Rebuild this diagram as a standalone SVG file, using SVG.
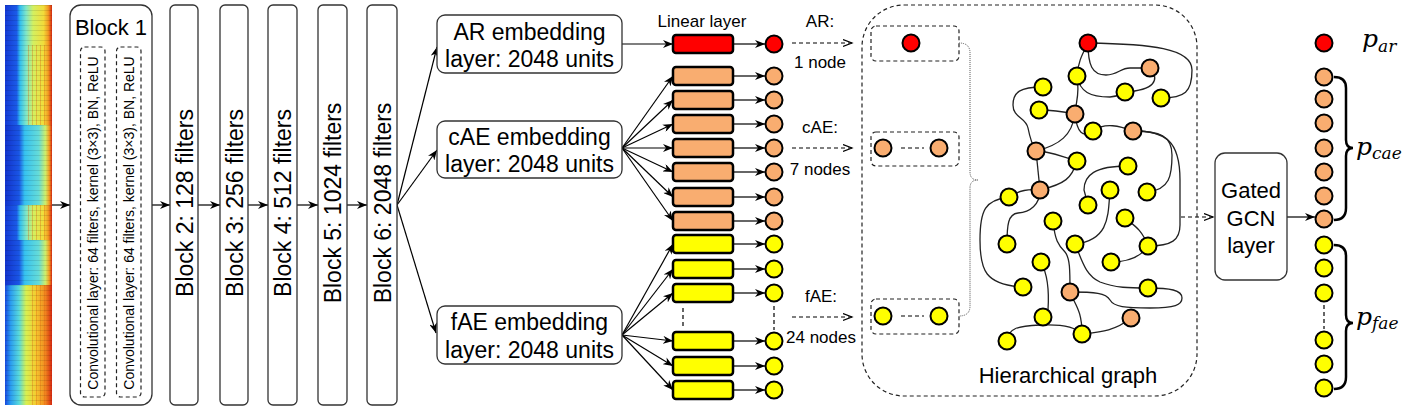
<svg xmlns="http://www.w3.org/2000/svg" width="1408" height="410" viewBox="0 0 1408 410">
<style>
.t{font-family:"Liberation Sans",Arial,sans-serif;fill:#000}
.m{font-family:"DejaVu Serif","Liberation Serif",serif;font-style:italic;fill:#000}
.box{fill:#fff;stroke:#333;stroke-width:1.3}
.dbox{fill:none;stroke:#222;stroke-width:1.2;stroke-dasharray:4 3}
.lin{stroke:#000;stroke-width:2.5}
.n{stroke:#000;stroke-width:2}
.r{fill:#ff0000}.o{fill:#f9ad70}.y{fill:#ffff00}
.e{fill:none;stroke:#222;stroke-width:1.3}
.a{fill:none;stroke:#000;stroke-width:1.2;marker-end:url(#ah)}
.da{fill:none;stroke:#000;stroke-width:1.2;stroke-dasharray:4 3;marker-end:url(#oh)}
.dl{fill:none;stroke:#000;stroke-width:1.2;stroke-dasharray:4 3}
.br{fill:none;stroke:#000;stroke-width:2.5}
</style>
<defs>
<marker id="ah" markerUnits="userSpaceOnUse" markerWidth="11" markerHeight="8" refX="10" refY="4" orient="auto">
<path d="M0,0 L10,4 L0,8 L3,4 z" fill="#000"/>
</marker>
<marker id="oh" markerUnits="userSpaceOnUse" markerWidth="11" markerHeight="9" refX="9" refY="4" orient="auto">
<path d="M0,0.5 L9,4 L0,7.5" fill="none" stroke="#000" stroke-width="1.2"/>
</marker>
<linearGradient id="s1" x1="0" x2="1" y1="0" y2="0">
<stop offset="0" stop-color="#1438d4"/><stop offset="0.25" stop-color="#1b5be8"/><stop offset="0.32" stop-color="#32bff0"/><stop offset="0.45" stop-color="#7fe6c8"/><stop offset="0.6" stop-color="#d4f060"/><stop offset="0.82" stop-color="#f2dc3a"/><stop offset="0.92" stop-color="#f29a22"/><stop offset="1" stop-color="#d42810"/>
</linearGradient>
<linearGradient id="s2" x1="0" x2="1" y1="0" y2="0">
<stop offset="0" stop-color="#1232cc"/><stop offset="0.3" stop-color="#1a56e6"/><stop offset="0.42" stop-color="#36c2f0"/><stop offset="0.72" stop-color="#66dcd8"/><stop offset="0.86" stop-color="#cdee6a"/><stop offset="0.94" stop-color="#f2a024"/><stop offset="1" stop-color="#d42810"/>
</linearGradient>
<linearGradient id="s3" x1="0" x2="1" y1="0" y2="0">
<stop offset="0" stop-color="#1848de"/><stop offset="0.12" stop-color="#2a9cf0"/><stop offset="0.3" stop-color="#58dadc"/><stop offset="0.45" stop-color="#d8f050"/><stop offset="0.65" stop-color="#f4cc30"/><stop offset="0.85" stop-color="#f28a20"/><stop offset="1" stop-color="#d42810"/>
</linearGradient>
<pattern id="scan" width="47" height="5" patternUnits="userSpaceOnUse">
<rect width="47" height="1" fill="#000" opacity="0.1"/>
</pattern>
<pattern id="vst" width="4" height="20" patternUnits="userSpaceOnUse">
<rect width="1" height="20" fill="#e06010" opacity="0.35"/>
</pattern>
</defs>

<g id="spectrogram">
<rect x="5" y="5" width="47" height="40" fill="url(#s1)"/>
<rect x="5" y="45" width="47" height="80" fill="url(#s1)"/>
<rect x="27" y="45" width="20" height="80" fill="url(#vst)"/>
<rect x="5" y="125" width="47" height="80" fill="url(#s2)"/>
<rect x="5" y="205" width="47" height="35" fill="url(#s1)"/>
<rect x="27" y="205" width="20" height="35" fill="url(#vst)"/>
<rect x="5" y="240" width="47" height="45" fill="url(#s2)"/>
<rect x="5" y="285" width="47" height="120" fill="url(#s3)"/>
<rect x="31" y="285" width="18" height="120" fill="url(#vst)"/>
<rect x="5" y="5" width="47" height="400" fill="url(#scan)"/>
</g>

<g id="connectors">
<line class="a" x1="52" y1="205" x2="70" y2="205"/>
<line class="a" x1="152" y1="205" x2="170" y2="205"/>
<line class="a" x1="198" y1="205" x2="220" y2="205"/>
<line class="a" x1="248" y1="205" x2="268" y2="205"/>
<line class="a" x1="297" y1="205" x2="318" y2="205"/>
<line class="a" x1="347" y1="205" x2="367" y2="205"/>
<line class="a" x1="397" y1="205" x2="437" y2="47"/>
<line class="a" x1="397" y1="205" x2="437" y2="150"/>
<line class="a" x1="397" y1="205" x2="436" y2="333"/>
<line class="a" x1="622" y1="44" x2="673" y2="44"/>
<line class="a" x1="622" y1="148" x2="673" y2="76"/>
<line class="a" x1="622" y1="148" x2="673" y2="100"/>
<line class="a" x1="622" y1="148" x2="673" y2="124"/>
<line class="a" x1="622" y1="148" x2="673" y2="148"/>
<line class="a" x1="622" y1="148" x2="673" y2="172"/>
<line class="a" x1="622" y1="148" x2="673" y2="197"/>
<line class="a" x1="622" y1="148" x2="673" y2="221"/>
<line class="a" x1="622" y1="335" x2="673" y2="244"/>
<line class="a" x1="622" y1="335" x2="673" y2="269"/>
<line class="a" x1="622" y1="335" x2="673" y2="293"/>
<line class="a" x1="622" y1="335" x2="673" y2="341"/>
<line class="a" x1="622" y1="335" x2="673" y2="366"/>
<line class="a" x1="622" y1="335" x2="673" y2="390"/>
<line class="a" x1="733" y1="44" x2="765" y2="44"/>
<line class="a" x1="733" y1="76" x2="765" y2="76"/>
<line class="a" x1="733" y1="100" x2="765" y2="100"/>
<line class="a" x1="733" y1="124" x2="765" y2="124"/>
<line class="a" x1="733" y1="148" x2="765" y2="148"/>
<line class="a" x1="733" y1="172" x2="765" y2="172"/>
<line class="a" x1="733" y1="197" x2="765" y2="197"/>
<line class="a" x1="733" y1="221" x2="765" y2="221"/>
<line class="a" x1="733" y1="244" x2="765" y2="244"/>
<line class="a" x1="733" y1="269" x2="765" y2="269"/>
<line class="a" x1="733" y1="293" x2="765" y2="293"/>
<line class="a" x1="733" y1="341" x2="765" y2="341"/>
<line class="a" x1="733" y1="366" x2="765" y2="366"/>
<line class="a" x1="733" y1="390" x2="765" y2="390"/>
<line class="dl" x1="683" y1="308" x2="683" y2="328"/>
<line class="dl" x1="774" y1="306" x2="774" y2="330"/>
<line class="da" x1="792" y1="43" x2="852" y2="43"/>
<line class="da" x1="792" y1="148" x2="852" y2="148"/>
<line class="da" x1="792" y1="317" x2="852" y2="317"/>
<line class="da" x1="1181" y1="217" x2="1213" y2="217"/>
<line class="a" x1="1287" y1="217" x2="1315" y2="217"/>
</g>

<g id="block1">
<rect class="box" x="70" y="5" width="82" height="400" rx="11"/>
<text class="t" x="111" y="35" font-size="22" text-anchor="middle">Block 1</text>
<rect class="dbox" x="80.5" y="47" width="24.5" height="350" rx="4"/>
<rect class="dbox" x="116.5" y="47" width="24.5" height="350" rx="4"/>
<text class="t" font-size="14" text-anchor="middle" transform="translate(97.5,223) rotate(-90)">Convolutional layer: 64 filters, kernel (3×3), BN, ReLU</text>
<text class="t" font-size="14" text-anchor="middle" transform="translate(133.5,223) rotate(-90)">Convolutional layer: 64 filters, kernel (3×3), BN, ReLU</text>
</g>
<g id="block2">
<rect class="box" x="170" y="5" width="28" height="400" rx="5"/>
<text class="t" font-size="23" text-anchor="middle" transform="translate(192.5,203) rotate(-90)">Block 2: 128 filters</text>
</g>
<g id="block3">
<rect class="box" x="220" y="5" width="28" height="400" rx="5"/>
<text class="t" font-size="23" text-anchor="middle" transform="translate(242.5,203) rotate(-90)">Block 3: 256 filters</text>
</g>
<g id="block4">
<rect class="box" x="268" y="5" width="29" height="400" rx="5"/>
<text class="t" font-size="23" text-anchor="middle" transform="translate(291,203) rotate(-90)">Block 4: 512 filters</text>
</g>
<g id="block5">
<rect class="box" x="318" y="5" width="29" height="400" rx="5"/>
<text class="t" font-size="23" text-anchor="middle" transform="translate(341,203) rotate(-90)">Block 5: 1024 filters</text>
</g>
<g id="block6">
<rect class="box" x="367" y="5" width="30" height="400" rx="5"/>
<text class="t" font-size="23" text-anchor="middle" transform="translate(390.5,203) rotate(-90)">Block 6: 2048 filters</text>
</g>

<g id="ar-embedding">
<rect class="box" x="437" y="15" width="185" height="58" rx="8"/>
<text class="t" x="529.5" y="39.5" font-size="23" text-anchor="middle">AR embedding</text>
<text class="t" x="529.5" y="66.5" font-size="23" text-anchor="middle">layer: 2048 units</text>
</g>
<g id="cae-embedding">
<rect class="box" x="437" y="121" width="185" height="57" rx="8"/>
<text class="t" x="529.5" y="144.5" font-size="23" text-anchor="middle">cAE embedding</text>
<text class="t" x="529.5" y="172" font-size="23" text-anchor="middle">layer: 2048 units</text>
</g>
<g id="fae-embedding">
<rect class="box" x="437" y="306" width="185" height="58" rx="8"/>
<text class="t" x="529.5" y="330" font-size="23" text-anchor="middle">fAE embedding</text>
<text class="t" x="529.5" y="358" font-size="23" text-anchor="middle">layer: 2048 units</text>
</g>

<g id="linear-layers">
<text class="t" x="702" y="27" font-size="17" text-anchor="middle">Linear layer</text>
<rect class="lin r" x="673" y="35" width="60" height="18" rx="3"/>
<rect class="lin o" x="673" y="67" width="60" height="18" rx="3"/>
<rect class="lin o" x="673" y="91" width="60" height="18" rx="3"/>
<rect class="lin o" x="673" y="115" width="60" height="18" rx="3"/>
<rect class="lin o" x="673" y="139" width="60" height="18" rx="3"/>
<rect class="lin o" x="673" y="163" width="60" height="18" rx="3"/>
<rect class="lin o" x="673" y="188" width="60" height="18" rx="3"/>
<rect class="lin o" x="673" y="212" width="60" height="18" rx="3"/>
<rect class="lin y" x="673" y="235" width="60" height="18" rx="3"/>
<rect class="lin y" x="673" y="260" width="60" height="18" rx="3"/>
<rect class="lin y" x="673" y="284" width="60" height="18" rx="3"/>
<rect class="lin y" x="673" y="332" width="60" height="18" rx="3"/>
<rect class="lin y" x="673" y="357" width="60" height="18" rx="3"/>
<rect class="lin y" x="673" y="381" width="60" height="18" rx="3"/>
</g>

<g id="node-column">
<circle class="n r" cx="774" cy="44" r="8.5"/>
<circle class="n o" cx="774" cy="76" r="8.5"/>
<circle class="n o" cx="774" cy="100" r="8.5"/>
<circle class="n o" cx="774" cy="124" r="8.5"/>
<circle class="n o" cx="774" cy="148" r="8.5"/>
<circle class="n o" cx="774" cy="172" r="8.5"/>
<circle class="n o" cx="774" cy="197" r="8.5"/>
<circle class="n o" cx="774" cy="221" r="8.5"/>
<circle class="n y" cx="774" cy="244" r="8.5"/>
<circle class="n y" cx="774" cy="269" r="8.5"/>
<circle class="n y" cx="774" cy="293" r="8.5"/>
<circle class="n y" cx="774" cy="341" r="8.5"/>
<circle class="n y" cx="774" cy="366" r="8.5"/>
<circle class="n y" cx="774" cy="390" r="8.5"/>
</g>

<g id="group-labels">
<text class="t" x="820" y="27" font-size="17" text-anchor="middle">AR:</text>
<text class="t" x="820" y="68" font-size="17" text-anchor="middle">1 node</text>
<text class="t" x="820" y="133" font-size="17" text-anchor="middle">cAE:</text>
<text class="t" x="820" y="175" font-size="17" text-anchor="middle">7 nodes</text>
<text class="t" x="821" y="302" font-size="17" text-anchor="middle">fAE:</text>
<text class="t" x="821" y="343" font-size="17" text-anchor="middle">24 nodes</text>
</g>

<g id="hierarchical-graph">
<rect class="dbox" x="862" y="5" width="335" height="391" rx="42"/>
<rect class="dbox" x="871" y="26" width="88" height="35" rx="5"/>
<circle class="n r" cx="911" cy="43" r="8.5"/>
<rect class="dbox" x="871" y="132" width="88" height="34" rx="5"/>
<circle class="n o" cx="883" cy="148" r="8.5"/>
<line class="dl" x1="901" y1="148" x2="924" y2="148"/>
<circle class="n o" cx="939" cy="148" r="8.5"/>
<rect class="dbox" x="871" y="299" width="88" height="35" rx="5"/>
<circle class="n y" cx="883" cy="316" r="8.5"/>
<line class="dl" x1="901" y1="316" x2="924" y2="316"/>
<circle class="n y" cx="939" cy="316" r="8.5"/>
<path d="M959,43 Q970,43 970,53 L970,172 Q970,180 978,180 Q970,180 970,188 L970,306 Q970,316 959,316" fill="none" stroke="#555" stroke-width="1" stroke-dasharray="1 1"/>
<g id="graph-edges">
<path class="e" d="M1088,43 C1082,55 1078,62 1077,76"/>
<path class="e" d="M1088,43 C1088,65 1092,75 1106,75 C1118,75 1120,68 1130,68 L1150,68"/>
<path class="e" d="M1088,43 C1150,44 1192,48 1192,70 C1192,92 1185,98 1161,98"/>
<path class="e" d="M1077,76 C1080,92 1090,97 1110,97 C1118,97 1120,94 1125,92"/>
<path class="e" d="M1150,68 C1160,80 1155,90 1125,92"/>
<path class="e" d="M1077,76 C1080,95 1076,100 1075,114"/>
<path class="e" d="M1043,87 C1020,87 1013,92 1013,105 C1013,118 1026,117 1028,128 C1030,138 1032,145 1036,151"/>
<path class="e" d="M1039,110 C1055,110 1065,112 1075,114"/>
<path class="e" d="M1075,114 C1072,135 1060,145 1036,151"/>
<path class="e" d="M1075,114 C1077,133 1083,138 1093,131"/>
<path class="e" d="M1093,131 C1105,122 1120,126 1133,131"/>
<path class="e" d="M1133,131 C1160,131 1172,136 1172,155 C1172,175 1170,190 1147,192"/>
<path class="e" d="M1133,131 C1165,131 1180,140 1180,180 L1180,225 C1180,240 1172,246 1148,246"/>
<path class="e" d="M1036,151 C1050,151 1062,157 1077,161"/>
<path class="e" d="M1036,151 L1040,190"/>
<path class="e" d="M1077,161 C1072,178 1065,184 1040,190"/>
<path class="e" d="M1040,190 C1028,189 1020,190 1009,197"/>
<path class="e" d="M1040,190 C1040,205 1030,212 1018,213 C1008,214 1007,225 1007,244"/>
<path class="e" d="M1009,197 C985,200 980,210 980,240 C980,270 985,285 1023,287"/>
<path class="e" d="M1128,166 C1095,166 1084,175 1084,190 L1088,205"/>
<path class="e" d="M1110,190 C1108,215 1110,240 1075,244"/>
<path class="e" d="M1125,218 C1135,226 1142,230 1148,246"/>
<path class="e" d="M1148,246 C1140,258 1125,262 1111,262"/>
<path class="e" d="M1053,221 C1055,240 1058,245 1065,252 C1070,258 1070,270 1070,292"/>
<path class="e" d="M1075,244 C1082,260 1085,275 1100,282 C1115,288 1130,288 1148,288"/>
<path class="e" d="M1070,292 C1095,292 1106,293 1110,300 C1114,307 1125,308 1150,308 C1175,308 1182,305 1182,298 C1182,290 1170,288 1148,288"/>
<path class="e" d="M1070,292 C1075,305 1082,310 1082,334"/>
<path class="e" d="M1041,262 C1048,275 1049,295 1048,310 L1043,317"/>
<path class="e" d="M1007,341 C1008,328 1018,326 1040,325 C1060,324 1075,326 1082,334"/>
<path class="e" d="M1082,334 C1100,332 1115,331 1131,318"/>
</g>
<g id="graph-nodes">
<circle class="n r" cx="1088" cy="43" r="8.5"/>
<circle class="n o" cx="1150" cy="68" r="8.5"/>
<circle class="n o" cx="1075" cy="114" r="8.5"/>
<circle class="n o" cx="1133" cy="131" r="8.5"/>
<circle class="n o" cx="1036" cy="151" r="8.5"/>
<circle class="n o" cx="1040" cy="190" r="8.5"/>
<circle class="n o" cx="1070" cy="292" r="8.5"/>
<circle class="n o" cx="1131" cy="318" r="8.5"/>
<circle class="n y" cx="1077" cy="76" r="8.5"/>
<circle class="n y" cx="1125" cy="92" r="8.5"/>
<circle class="n y" cx="1161" cy="98" r="8.5"/>
<circle class="n y" cx="1043" cy="87" r="8.5"/>
<circle class="n y" cx="1039" cy="110" r="8.5"/>
<circle class="n y" cx="1093" cy="131" r="8.5"/>
<circle class="n y" cx="1077" cy="161" r="8.5"/>
<circle class="n y" cx="1128" cy="166" r="8.5"/>
<circle class="n y" cx="1009" cy="197" r="8.5"/>
<circle class="n y" cx="1110" cy="190" r="8.5"/>
<circle class="n y" cx="1147" cy="192" r="8.5"/>
<circle class="n y" cx="1088" cy="205" r="8.5"/>
<circle class="n y" cx="1053" cy="221" r="8.5"/>
<circle class="n y" cx="1125" cy="218" r="8.5"/>
<circle class="n y" cx="1007" cy="244" r="8.5"/>
<circle class="n y" cx="1075" cy="244" r="8.5"/>
<circle class="n y" cx="1148" cy="246" r="8.5"/>
<circle class="n y" cx="1041" cy="262" r="8.5"/>
<circle class="n y" cx="1111" cy="262" r="8.5"/>
<circle class="n y" cx="1023" cy="287" r="8.5"/>
<circle class="n y" cx="1148" cy="288" r="8.5"/>
<circle class="n y" cx="1043" cy="317" r="8.5"/>
<circle class="n y" cx="1082" cy="334" r="8.5"/>
<circle class="n y" cx="1007" cy="341" r="8.5"/>
</g>
<text class="t" x="1068" y="383" font-size="22" text-anchor="middle">Hierarchical graph</text>
</g>

<g id="gated-gcn">
<rect class="box" x="1215" y="153" width="72" height="127" rx="10"/>
<text class="t" x="1251" y="198" font-size="22" text-anchor="middle">Gated</text>
<text class="t" x="1251" y="226" font-size="22" text-anchor="middle">GCN</text>
<text class="t" x="1251" y="253" font-size="22" text-anchor="middle">layer</text>
</g>

<g id="outputs">
<circle class="n r" cx="1324" cy="43" r="8.5"/>
<circle class="n o" cx="1324" cy="77" r="8.5"/>
<circle class="n o" cx="1324" cy="99" r="8.5"/>
<circle class="n o" cx="1324" cy="123" r="8.5"/>
<circle class="n o" cx="1324" cy="148" r="8.5"/>
<circle class="n o" cx="1324" cy="172" r="8.5"/>
<circle class="n o" cx="1324" cy="196" r="8.5"/>
<circle class="n o" cx="1324" cy="219" r="8.5"/>
<circle class="n y" cx="1324" cy="245" r="8.5"/>
<circle class="n y" cx="1324" cy="268" r="8.5"/>
<circle class="n y" cx="1324" cy="293" r="8.5"/>
<line class="dl" x1="1324" y1="305" x2="1324" y2="329"/>
<circle class="n y" cx="1324" cy="340" r="8.5"/>
<circle class="n y" cx="1324" cy="364" r="8.5"/>
<circle class="n y" cx="1324" cy="388" r="8.5"/>
<path class="br" d="M1334,77 Q1346,77 1346,88 L1346,140 Q1346,148 1353,148 Q1346,148 1346,156 L1346,208 Q1346,220 1334,220"/>
<path class="br" d="M1334,245 Q1346,245 1346,256 L1346,315 Q1346,323 1353,323 Q1346,323 1346,331 L1346,377 Q1346,389 1334,389"/>
<text class="m" x="1362" y="47" font-size="25">p<tspan font-size="17" dy="5">ar</tspan></text>
<text class="m" x="1356" y="155" font-size="25">p<tspan font-size="17" dy="4">cae</tspan></text>
<text class="m" x="1356" y="325" font-size="25">p<tspan font-size="17" dy="4">fae</tspan></text>
</g>
</svg>
